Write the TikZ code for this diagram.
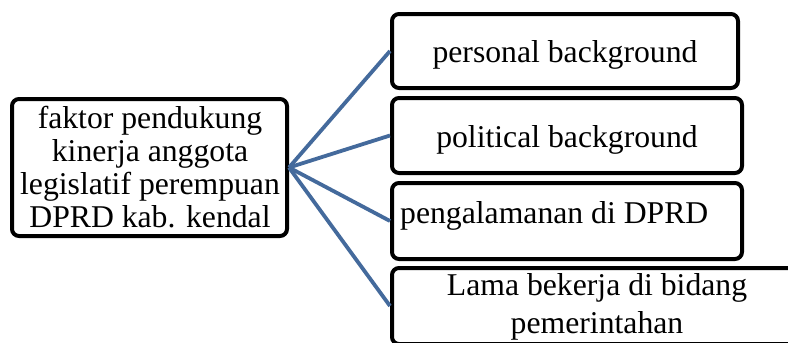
\documentclass[tikz,border=0pt]{standalone}
\usepackage{fontspec}
\setmainfont{Liberation Serif}
\definecolor{linkblue}{RGB}{68,106,156}
\begin{document}
\begin{tikzpicture}[x=1pt,y=-1pt,
  boxstyle/.style={draw=black,line width=4pt,rounded corners=7pt,fill=white,inner sep=0pt},
  txt/.style={font=\fontsize{31.7}{33}\selectfont,inner sep=0pt,align=center},
  link/.style={draw=linkblue,line width=3.8pt}]
\useasboundingbox (0,0) rectangle (788,343);
\clip (0,0) rectangle (788,343);
% left box
\node[boxstyle,minimum width=275pt,minimum height=137pt] (src) at (149.5,167.5) {};
\node[txt,anchor=base] (srct) at (150,227) {faktor pendukung\\kinerja anggota\\legislatif perempuan\\DPRD kab. kendal};
% right boxes
\node[boxstyle,minimum width=346pt,minimum height=74pt] (b1) at (565,51) {};
\node[boxstyle,minimum width=350pt,minimum height=75pt] (b2) at (567,135.5) {};
\node[boxstyle,minimum width=350pt,minimum height=76pt] (b3) at (567,221) {};
\node[boxstyle,minimum width=410pt,minimum height=76pt] (b4) at (597,306) {};
\node[txt,anchor=base] (t1) at (565,62) {personal background};
\node[txt,anchor=base] (t2) at (567,147) {political background};
\node[txt,anchor=base west] (t3) at (400,223) {pengalamanan di DPRD};
\node[txt,anchor=base] (t4a) at (597,295) {Lama bekerja di bidang};
\node[txt,anchor=base] (t4b) at (597,333) {pemerintahan};
% connectors
\coordinate (hub) at (src.east);
\path[link] (hub) -- (b1.west);
\path[link] (hub) -- (b2.west);
\path[link] (hub) -- (b3.west);
\path[link] (hub) -- (b4.west);
\end{tikzpicture}
\end{document}
